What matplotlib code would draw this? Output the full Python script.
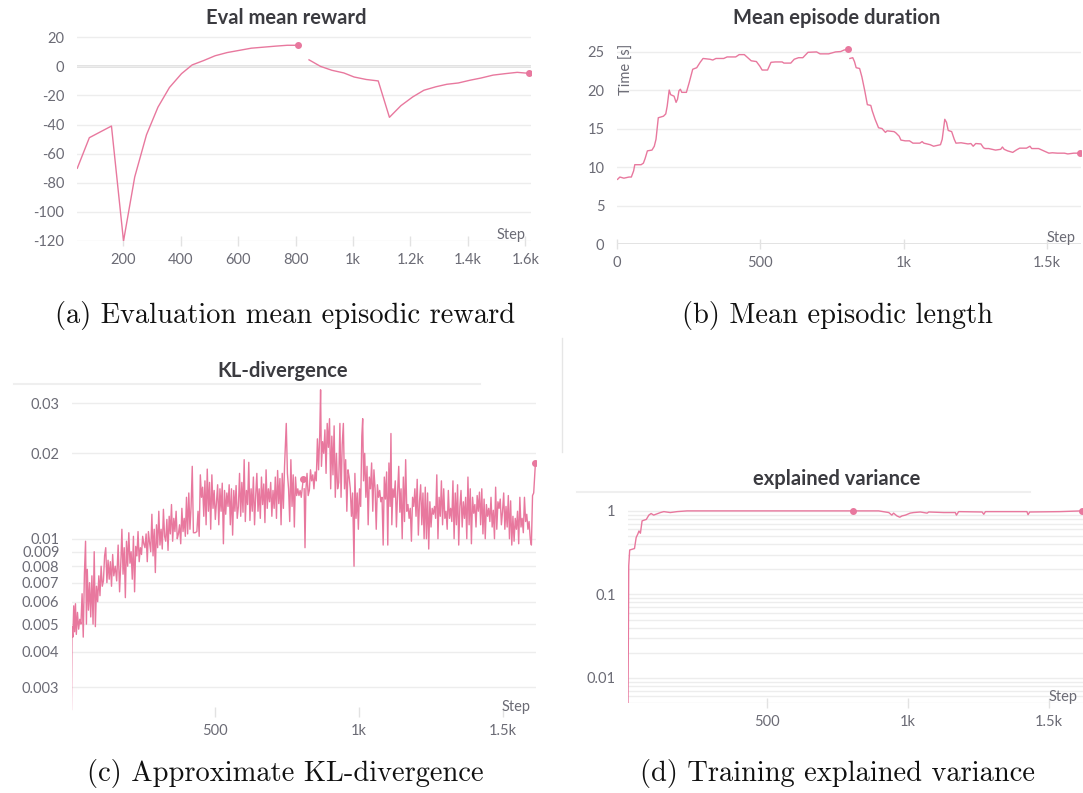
import matplotlib.pyplot as plt
from matplotlib.ticker import FixedLocator, NullLocator, NullFormatter

# ---------------- data ----------------
# (a) eval mean reward, two runs
reward_steps_1 = [40, 82, 159, 201, 240, 281, 321, 361, 403, 440, 480, 520, 562, 604, 646, 688, 730, 771, 807]
reward_vals_1 = [-70, -49, -41, -120, -76, -47, -28, -14.5, -5, 1, 4, 7.3, 9.5, 11, 12.5, 13.2, 13.9, 14.5, 14.5]
reward_steps_2 = [847, 887, 927, 968, 1004, 1046, 1088, 1127, 1167, 1208, 1247, 1289, 1327, 1367, 1408, 1446,
                  1488, 1530, 1572, 1614]
reward_vals_2 = [4.5, 0, -2.7, -4.5, -7.3, -9, -10, -35, -27, -21, -16.4, -14, -12.3, -11.4, -9.5, -8,
                 -6, -5, -4.1, -4.8]

# (b) mean episode duration [s]
dur_steps_1 = [2, 10, 24, 42, 50, 58, 62, 84, 92, 98, 106, 122, 130, 136, 144, 162, 170, 175, 182, 187,
               199, 206, 211, 216, 221, 226, 242, 252, 264, 278, 290, 300, 324, 334, 345, 372, 384, 414,
               426, 444, 456, 468, 486, 498, 506, 525, 537, 552, 576, 582, 606, 618, 633, 648, 666, 696,
               708, 738, 762, 780, 792, 807]
dur_vals_1 = [8.4, 8.7, 8.55, 8.7, 8.7, 9.5, 10.3, 10.3, 10.5, 11.1, 12.1, 12.2, 12.7, 13.6, 16.4, 16.6,
              16.9, 17.9, 20.0, 19.4, 19.2, 18.4, 18.8, 19.9, 20.1, 19.7, 19.7, 21.0, 22.7, 22.9, 23.6,
              24.1, 24.0, 23.9, 24.1, 24.1, 24.3, 24.3, 24.6, 24.6, 24.2, 23.8, 23.7, 23.1, 22.6, 22.6,
              23.6, 23.65, 23.65, 23.5, 23.5, 24.0, 24.2, 24.2, 24.9, 24.95, 24.7, 24.7, 24.95, 25.0,
              25.2, 25.3]
dur_steps_2 = [812, 822, 828, 834, 846, 854, 864, 873, 885, 890, 900, 912, 924, 936, 942, 966, 972, 984,
               990, 1005, 1020, 1032, 1056, 1064, 1070, 1092, 1104, 1128, 1134, 1143, 1149, 1155, 1167,
               1176, 1182, 1200, 1224, 1234, 1242, 1251, 1269, 1278, 1284, 1296, 1308, 1320, 1338, 1344,
               1350, 1362, 1380, 1392, 1404, 1428, 1440, 1446, 1470, 1488, 1506, 1518, 1536, 1560, 1572,
               1593, 1614]
dur_vals_2 = [24.1, 24.2, 23.7, 22.9, 22.8, 21.7, 19.9, 18.1, 18.0, 17.3, 16.2, 15.1, 15.0, 14.5, 14.7,
              14.6, 14.45, 14.0, 13.5, 13.4, 13.4, 13.1, 13.1, 13.3, 13.1, 12.9, 12.7, 12.9, 13.6, 16.2,
              15.8, 14.75, 14.6, 13.6, 13.1, 13.15, 13.0, 13.05, 12.7, 13.05, 13.0, 12.5, 12.4, 12.4,
              12.3, 12.2, 12.3, 12.6, 12.3, 12.1, 11.9, 12.2, 12.45, 12.45, 12.7, 12.4, 12.4, 12.1, 11.8,
              11.85, 11.8, 11.8, 11.7, 11.8, 11.8]

# (c) approximate KL-divergence
kl_steps_1 = [3, 5, 8, 11, 14, 17, 20, 24, 28, 32, 36, 40, 44, 48, 52, 55, 58, 62, 66, 70, 74, 78, 82, 86,
              90, 94, 98, 102, 106, 110, 114, 118, 122, 126, 130, 134, 138, 142, 146, 150, 155, 160, 165,
              170, 175, 178, 182, 186, 190, 194, 198, 202, 206, 210, 214, 218, 222, 226, 230, 234, 238,
              242, 246, 250, 254, 258, 262, 266, 270, 274, 278, 282, 286, 290, 294, 298, 302, 306, 310,
              314, 318, 322, 326, 330, 334, 338, 342, 346, 350, 354, 358, 362, 366, 370, 374, 378, 382,
              386, 390, 394, 398, 402, 406, 410, 414, 418, 422, 426, 432, 438, 442, 446, 450, 454, 458,
              462, 466, 470, 474, 478, 482, 486, 490, 494, 498, 502, 506, 510, 514, 518, 522, 526, 530,
              534, 538, 542, 546, 550, 554, 558, 562, 566, 570, 574, 578, 582, 586, 590, 594, 598, 602,
              606, 610, 614, 618, 622, 626, 630, 634, 638, 642, 646, 650, 654, 658, 662, 666, 670, 674,
              678, 682, 686, 690, 694, 698, 702, 706, 710, 714, 718, 722, 726, 730, 734, 738, 742, 748,
              752, 756, 760, 764, 768, 772, 776, 780, 784, 788, 792, 796, 800, 807]
kl_vals_1 = [0.0025, 0.0049, 0.0045, 0.0058, 0.0047, 0.0059, 0.0046, 0.0055, 0.0048, 0.0052, 0.0050,
             0.0064, 0.0045, 0.0075, 0.0098, 0.0050, 0.0078, 0.0056, 0.0070, 0.0053, 0.0074, 0.0050,
             0.0090, 0.0049, 0.0068, 0.0060, 0.0074, 0.0063, 0.0080, 0.0068, 0.0071, 0.0087, 0.0093,
             0.0070, 0.0084, 0.0072, 0.0083, 0.0068, 0.0088, 0.0074, 0.0080, 0.0071, 0.0095, 0.0065,
             0.0086, 0.0108, 0.0075, 0.0093, 0.0062, 0.0098, 0.0080, 0.0105, 0.0082, 0.0090, 0.0072,
             0.0102, 0.0065, 0.0094, 0.0087, 0.0106, 0.0083, 0.0093, 0.0088, 0.0102, 0.0096, 0.0093,
             0.0104, 0.0083, 0.0106, 0.0097, 0.0090, 0.0122, 0.0087, 0.0108, 0.0076, 0.0112, 0.0093,
             0.0125, 0.0095, 0.0108, 0.0092, 0.0127, 0.0102, 0.0098, 0.0117, 0.0091, 0.0120, 0.0104,
             0.0132, 0.0098, 0.0118, 0.0106, 0.0125, 0.0100, 0.0104, 0.0112, 0.0096, 0.0128, 0.0106,
             0.0118, 0.0102, 0.0140, 0.0104, 0.0145, 0.0108, 0.0130, 0.0180, 0.0105, 0.0105, 0.0106,
             0.0125, 0.0102, 0.0168, 0.0140, 0.0152, 0.0120, 0.0160, 0.0112, 0.0176, 0.0125, 0.0158,
             0.0108, 0.0168, 0.0128, 0.0148, 0.0117, 0.0135, 0.0155, 0.0112, 0.0150, 0.0125, 0.0157,
             0.0096, 0.0148, 0.0122, 0.0145, 0.0130, 0.0155, 0.0112, 0.0150, 0.0103, 0.0148, 0.0125,
             0.0154, 0.0118, 0.0130, 0.0170, 0.0120, 0.0158, 0.0124, 0.0190, 0.0115, 0.0148, 0.0132,
             0.0186, 0.0116, 0.0150, 0.0125, 0.0165, 0.0112, 0.0142, 0.0170, 0.0125, 0.0150, 0.0118,
             0.0165, 0.0132, 0.0156, 0.0114, 0.0175, 0.0128, 0.0150, 0.0135, 0.0158, 0.0120, 0.0148,
             0.0128, 0.0165, 0.0118, 0.0174, 0.0133, 0.0163, 0.0112, 0.0170, 0.0128, 0.0180, 0.0255,
             0.0170, 0.0150, 0.0115, 0.0190, 0.0130, 0.0168, 0.0110, 0.0165, 0.0142, 0.0150, 0.0142,
             0.0148, 0.0140, 0.0163]
kl_steps_2 = [810, 813, 816, 820, 824, 828, 832, 836, 840, 844, 848, 852, 856, 860, 864, 867, 870, 874,
              878, 882, 886, 890, 894, 898, 902, 906, 910, 914, 918, 922, 926, 930, 934, 938, 942, 946,
              950, 954, 958, 962, 966, 970, 974, 978, 983, 986, 990, 994, 998, 1002, 1006, 1010, 1013,
              1016, 1020, 1024, 1028, 1032, 1036, 1040, 1044, 1048, 1052, 1056, 1060, 1064, 1068, 1072,
              1076, 1080, 1084, 1088, 1092, 1096, 1100, 1104, 1108, 1111, 1114, 1118, 1122, 1126, 1130,
              1134, 1138, 1142, 1146, 1150, 1154, 1158, 1162, 1166, 1170, 1174, 1178, 1182, 1186, 1190,
              1194, 1198, 1202, 1206, 1210, 1214, 1218, 1222, 1226, 1230, 1234, 1238, 1242, 1246, 1250,
              1254, 1258, 1262, 1266, 1270, 1274, 1278, 1282, 1286, 1290, 1294, 1298, 1302, 1306, 1310,
              1314, 1318, 1322, 1326, 1330, 1334, 1338, 1342, 1346, 1350, 1354, 1358, 1362, 1366, 1370,
              1374, 1378, 1382, 1386, 1390, 1394, 1398, 1402, 1406, 1410, 1414, 1418, 1422, 1426, 1430,
              1434, 1438, 1442, 1446, 1450, 1454, 1458, 1462, 1466, 1470, 1474, 1478, 1482, 1486, 1490,
              1494, 1498, 1502, 1506, 1510, 1514, 1518, 1522, 1526, 1530, 1534, 1538, 1542, 1546, 1550,
              1554, 1558, 1562, 1566, 1570, 1574, 1578, 1582, 1586, 1590, 1594, 1598, 1602, 1606, 1612]
kl_vals_2 = [0.0150, 0.0093, 0.0148, 0.0170, 0.0142, 0.0148, 0.0175, 0.0160, 0.0168, 0.0150, 0.0172,
             0.0160, 0.0225, 0.0175, 0.0232, 0.0335, 0.0180, 0.0220, 0.0200, 0.0242, 0.0170, 0.0255,
             0.0210, 0.0265, 0.0150, 0.0230, 0.0168, 0.0250, 0.0140, 0.0200, 0.0150, 0.0158, 0.0255,
             0.0140, 0.0215, 0.0255, 0.0150, 0.0190, 0.0125, 0.0175, 0.0165, 0.0150, 0.0120, 0.0145,
             0.0080, 0.0170, 0.0118, 0.0145, 0.0108, 0.0150, 0.0130, 0.0230, 0.0265, 0.0160, 0.0200,
             0.0140, 0.0180, 0.0112, 0.0165, 0.0150, 0.0185, 0.0125, 0.0175, 0.0150, 0.0108, 0.0155,
             0.0140, 0.0148, 0.0135, 0.0140, 0.0095, 0.0165, 0.0138, 0.0172, 0.0095, 0.0185, 0.0130,
             0.0235, 0.0112, 0.0150, 0.0140, 0.0160, 0.0110, 0.0145, 0.0180, 0.0124, 0.0150, 0.0100,
             0.0165, 0.0115, 0.0190, 0.0125, 0.0132, 0.0118, 0.0128, 0.0098, 0.0140, 0.0130, 0.0150,
             0.0120, 0.0162, 0.0103, 0.0135, 0.0155, 0.0112, 0.0145, 0.0100, 0.0152, 0.0100, 0.0145,
             0.0092, 0.0135, 0.0110, 0.0128, 0.0122, 0.0130, 0.0118, 0.0168, 0.0100, 0.0140, 0.0120,
             0.0160, 0.0112, 0.0150, 0.0118, 0.0125, 0.0108, 0.0148, 0.0118, 0.0128, 0.0115, 0.0160,
             0.0100, 0.0145, 0.0112, 0.0155, 0.0095, 0.0130, 0.0148, 0.0110, 0.0135, 0.0118, 0.0140,
             0.0100, 0.0165, 0.0112, 0.0150, 0.0096, 0.0140, 0.0123, 0.0132, 0.0110, 0.0142, 0.0125,
             0.0146, 0.0112, 0.0150, 0.0104, 0.0138, 0.0100, 0.0132, 0.0120, 0.0128, 0.0115, 0.0140,
             0.0110, 0.0126, 0.0100, 0.0152, 0.0108, 0.0135, 0.0128, 0.0138, 0.0112, 0.0125, 0.0145,
             0.0108, 0.0130, 0.0110, 0.0142, 0.0100, 0.0136, 0.0095, 0.0120, 0.0098, 0.0118, 0.0108,
             0.0125, 0.0096, 0.0140, 0.0110, 0.0118, 0.0105, 0.0140, 0.0115, 0.0122, 0.0108, 0.0115,
             0.0100, 0.0095, 0.0142, 0.0145, 0.0185]

# (d) explained variance
ev_steps_1 = [8, 10.6, 14, 31, 37, 43, 47, 52, 58, 73, 82, 90, 99, 123, 135, 158, 182, 217, 400, 600, 806]
ev_vals_1 = [0.0051, 0.22, 0.34, 0.354, 0.48, 0.53, 0.575, 0.54, 0.76, 0.79, 0.89, 0.93, 0.89, 0.955,
             0.98, 0.955, 0.98, 1.0, 1.0, 1.0, 1.0]
ev_steps_2 = [810, 897, 933, 944, 950, 962, 972, 980, 992, 1009, 1021, 1045, 1069, 1075, 1128, 1169, 1173,
              1181, 1264, 1270, 1276, 1423, 1427, 1433, 1541, 1618]
ev_vals_2 = [1.0, 1.0, 0.955, 0.89, 0.94, 0.87, 0.84, 0.87, 0.89, 0.94, 0.955, 0.97, 0.94, 0.97, 0.955,
             0.955, 0.89, 0.98, 0.97, 0.91, 0.98, 0.98, 0.9, 0.97, 0.98, 1.0]

# tick labels
reward_xticks = [200, 400, 600, 800, 1000, 1200, 1400, 1600]
reward_xlabels = ['200', '400', '600', '800', '1k', '1.2k', '1.4k', '1.6k']
reward_yticks = [20, 0, -20, -40, -60, -80, -100, -120]
dur_yticks = [0, 5, 10, 15, 20, 25]
kl_yticks = [0.003, 0.004, 0.005, 0.006, 0.007, 0.008, 0.009, 0.01, 0.02, 0.03]
kl_ylabels = ['0.003', '0.004', '0.005', '0.006', '0.007', '0.008', '0.009', '0.01', '0.02', '0.03']
ev_yticks = [0.01, 0.1, 1]
ev_ylabels = ['0.01', '0.1', '1']

W, H = 1083, 793
PINK = '#e8789e'
GREY = '#6b6b75'
GRID = '#ededed'

plt.rcParams['font.family'] = ['Lato', 'DejaVu Sans']

fig = plt.figure(figsize=(W / 100, H / 100), dpi=100)


def place(left, top, right, bottom):
    # axes box given in pixels of the final image
    return fig.add_axes([left / W, 1 - bottom / H, (right - left) / W, (bottom - top) / H])


def style(ax, xticks, xlabels, yticks, ylabels):
    for s in ax.spines.values():
        s.set_visible(False)
    ax.set_xticks(xticks)
    ax.set_xticklabels(xlabels)
    ax.set_yticks(yticks)
    ax.set_yticklabels(ylabels)
    ax.yaxis.set_minor_locator(NullLocator())
    ax.tick_params(axis='y', length=0, pad=9, labelsize=10.5, labelcolor=GREY)
    ax.tick_params(axis='x', direction='inout', length=7, width=1, color='#e2e2e2',
                   labelsize=10.5, labelcolor=GREY, pad=5)
    ax.grid(axis='y', color=GRID, lw=1)
    ax.set_axisbelow(True)
    ax.patch.set_alpha(0)
    ax.text(0.988, -0.005, 'Step', transform=ax.transAxes, ha='right', va='bottom',
            color=GREY, size=10.5)


def draw(ax, segments, lw=1.0):
    for xs, ys in segments:
        ax.plot(xs, ys, color=PINK, lw=lw, solid_joinstyle='round')
        ax.plot(xs[-1], ys[-1], 'o', color=PINK, ms=4)


# (a) eval mean reward
ax = place(77, 30, 531, 241)
draw(ax, [(reward_steps_1, reward_vals_1), (reward_steps_2, reward_vals_2)])
ax.axhline(0, color='#dedede', lw=2, zorder=0)
ax.set_xlim(39, 1620)
ax.set_ylim(-120, 25)
style(ax, reward_xticks, reward_xlabels, reward_yticks, [str(v) for v in reward_yticks])

# (b) mean episode duration
ax = place(617, 40, 1081, 244)
draw(ax, [(dur_steps_1, dur_vals_1), (dur_steps_2, dur_vals_2)])
ax.axhline(0, color='#dedede', lw=2, zorder=0)
ax.set_xlim(0, 1618)
ax.set_ylim(0, 26.5)
style(ax, [0, 500, 1000, 1500], ['0', '500', '1k', '1.5k'], dur_yticks, [str(v) for v in dur_yticks])
fig.text(627 / W, 1 - 69 / H, 'Time [s]', rotation=90, ha='center', va='center', color=GREY, size=10.5)

# (c) KL divergence
ax = place(72, 388, 536, 712)
ax.set_yscale('log')
draw(ax, [(kl_steps_1, kl_vals_1), (kl_steps_2, kl_vals_2)], lw=1.0)
ax.set_xlim(5, 1614)
ax.set_ylim(0.00245, 0.0340)
style(ax, [500, 1000, 1500], ['500', '1k', '1.5k'], kl_yticks, kl_ylabels)
ax.yaxis.set_minor_formatter(NullFormatter())

# (d) explained variance
ax = place(628, 500, 1083, 703)
ax.set_yscale('log')
draw(ax, [(ev_steps_1, ev_vals_1), (ev_steps_2, ev_vals_2)])
ax.set_xlim(8, 1622)
ax.set_ylim(0.005, 1.35)
style(ax, [500, 1000, 1500], ['500', '1k', '1.5k'], ev_yticks, ev_ylabels)
minor = [m * 10.0 ** e for e in (-3, -2, -1) for m in range(2, 10)]
ax.yaxis.set_minor_locator(FixedLocator(minor))
ax.yaxis.set_minor_formatter(NullFormatter())
ax.tick_params(axis='y', which='minor', length=0)
ax.grid(axis='y', which='minor', color=GRID, lw=1)

# panel titles
title_kw = dict(ha='center', va='center', color='#3b3b40', size=14.5, weight='bold')
fig.text(286 / W, 1 - 18 / H, 'Eval mean reward', **title_kw)
fig.text(837 / W, 1 - 18 / H, 'Mean episode duration', **title_kw)
fig.text(283 / W, 1 - 371 / H, 'KL-divergence', **title_kw)
fig.text(837 / W, 1 - 479 / H, 'explained variance', **title_kw)

# thin separators from the dashboard export
fig.add_artist(plt.Line2D([14 / W, 480 / W], [1 - 384 / H, 1 - 384 / H], color='#efefef', lw=1.5))
fig.add_artist(plt.Line2D([577 / W, 1030 / W], [1 - 492 / H, 1 - 492 / H], color='#efefef', lw=1.5))
fig.add_artist(plt.Line2D([562 / W, 562 / W], [1 - 338 / H, 1 - 452 / H], color='#e6e6e6', lw=1))

# sub-figure captions
cap_kw = dict(ha='center', va='center', color='#111111', size=20.5, family=['cmr10', 'DejaVu Serif'])
fig.text(285 / W, 1 - 316 / H, '(a) Evaluation mean episodic reward', **cap_kw)
fig.text(837 / W, 1 - 316 / H, '(b) Mean episodic length', **cap_kw)
fig.text(285 / W, 1 - 774 / H, '(c) Approximate KL-divergence', **cap_kw)
fig.text(837 / W, 1 - 774 / H, '(d) Training explained variance', **cap_kw)

fig.savefig('out.png', dpi=100)
